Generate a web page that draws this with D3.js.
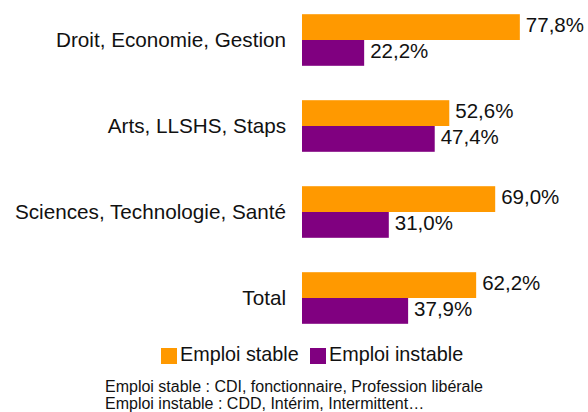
<!DOCTYPE html>
<html>
<head>
<meta charset="utf-8">
<script src="https://cdn.jsdelivr.net/npm/d3@7"></script>
<style>
  body { margin: 0; background: #fff; }
  svg { display: block; font-family: "Liberation Sans", Arial, sans-serif; }
</style>
</head>
<body>
<svg id="chart" width="588" height="412"></svg>
<script>
// data
const categories = ["Droit, Economie, Gestion", "Arts, LLSHS, Staps", "Sciences, Technologie, Santé", "Total"];
const series = ["Emploi stable", "Emploi instable"];
const stable = [77.8, 52.6, 69.0, 62.2];
const instable = [22.2, 47.4, 31.0, 37.9];
const colors = ["#FF9900", "#800080"];
const notes = [
  "Emploi stable : CDI, fonctionnaire, Profession libérale",
  "Emploi instable : CDD, Intérim, Intermittent…"
];

const rows = categories.map((c, i) => ({ cat: c, values: [stable[i], instable[i]] }));

const svg = d3.select("#chart");

let x = d3.scaleLinear().domain([0, 100]).range([302, 582]);
let y = d3.scaleBand().domain(categories).range([-3, 341]).paddingInner(0.4).paddingOuter(0.2);
let ySub = d3.scaleBand().domain([0, 1]).range([0, y.bandwidth()]);

const fmt = v => d3.format(".1f")(v).replace(".", ",") + "%";

// category labels
svg.append("g")
  .selectAll("text")
  .data(categories)
  .enter()
  .append("text")
  .attr("x", 286)
  .attr("y", d => y(d) + y.bandwidth() / 2)
  .attr("dy", "0.34em")
  .attr("text-anchor", "end")
  .attr("font-size", 20.7)
  .attr("fill", "#111")
  .text(d => d);

const groups = svg.append("g")
  .selectAll("g")
  .data(rows)
  .enter()
  .append("g")
  .attr("transform", d => `translate(0, ${y(d.cat)})`);

groups.selectAll("rect")
  .data(d => d.values)
  .enter()
  .append("rect")
  .attr("x", x(0))
  .attr("y", (d, i) => ySub(i))
  .attr("width", d => x(d) - x(0))
  .attr("height", ySub.bandwidth())
  .attr("fill", (d, i) => colors[i]);

groups.selectAll("text")
  .data(d => d.values)
  .enter()
  .append("text")
  .attr("x", d => x(d) + 6)
  .attr("y", (d, i) => ySub(i) + ySub.bandwidth() / 2)
  .attr("dy", 5)
  .attr("font-size", 20.5)
  .attr("fill", "#111")
  .text(d => fmt(d));

// legend
const legend = svg.append("g");
const legendX = [161, 310];
series.forEach((s, i) => {
  legend.append("rect")
    .attr("x", legendX[i])
    .attr("y", 348)
    .attr("width", 16)
    .attr("height", 16)
    .attr("fill", colors[i]);
  legend.append("text")
    .attr("x", legendX[i] + 19)
    .attr("y", 361)
    .attr("font-size", 19.8)
    .attr("fill", "#111")
    .text(s);
});

// footnote
svg.append("g")
  .selectAll("text")
  .data(notes)
  .enter()
  .append("text")
  .attr("x", 105)
  .attr("y", (d, i) => 392 + i * 17)
  .attr("font-size", 16)
  .attr("fill", "#111")
  .text(d => d);
</script>
</body>
</html>
